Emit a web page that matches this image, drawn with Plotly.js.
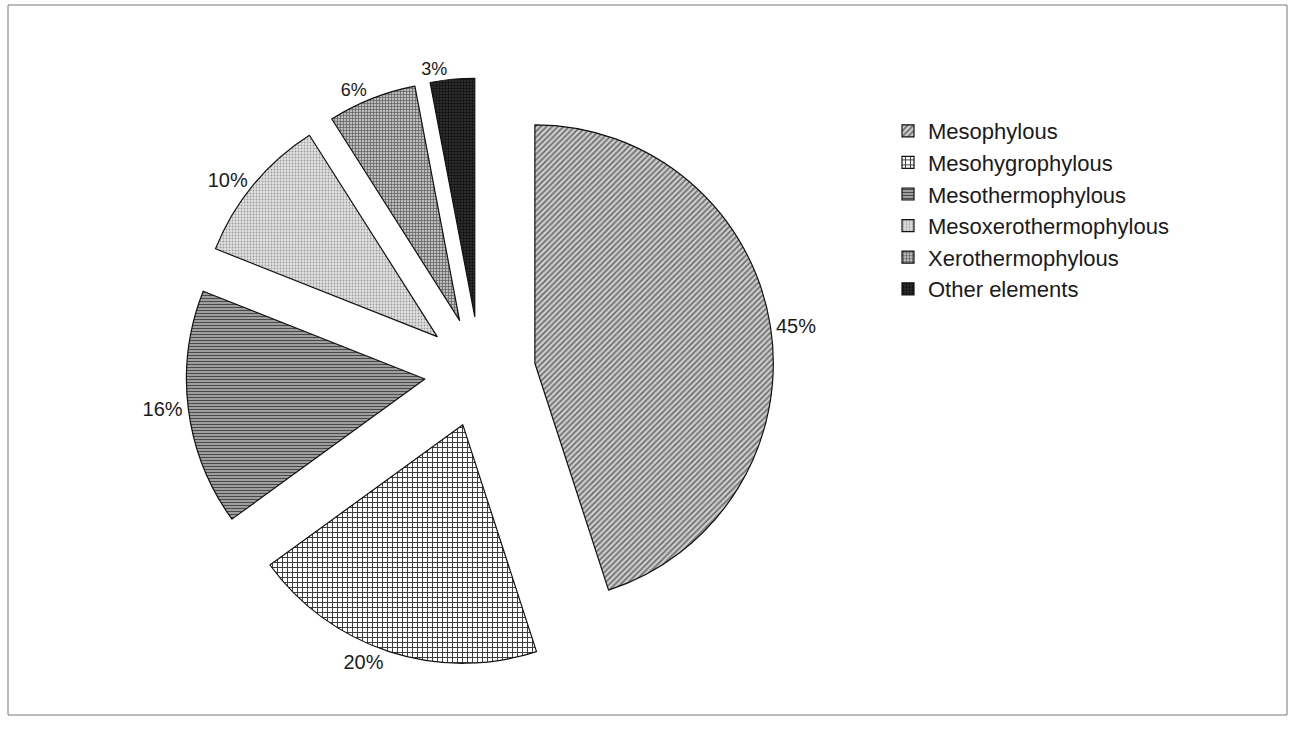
<!DOCTYPE html>
<html>
<head>
<meta charset="utf-8">
<script src="https://cdn.plot.ly/plotly-3.0.1.min.js"></script>
<style>html,body{margin:0;padding:0;background:#fff;}#chart{width:1296px;height:729px;}</style>
</head>
<body>
<div id="chart"></div>
<script>
const categories = ["Mesophylous", "Mesohygrophylous", "Mesothermophylous", "Mesoxerothermophylous", "Xerothermophylous", "Other elements"];
const shares = [45, 20, 16, 10, 6, 3];

const W = 1296, H = 729;
const trace = {
  type: 'pie',
  labels: categories,
  values: shares,
  sort: false,
  direction: 'clockwise',
  rotation: 0,
  pull: 0.233,
  textinfo: 'percent',
  textposition: 'outside',
  texttemplate: '%{value}%',
  outsidetextfont: {family: 'Arial, "Liberation Sans", sans-serif', size: [20, 20, 20, 20, 18, 18], color: '#1a1a1a'},
  marker: {
    colors: ['#c4c4c4', '#ffffff', '#9a9a9a', '#d6d6d6', '#b0b0b0', '#2e2e2e'],
    line: {color: '#111', width: 1.2},
    pattern: {
      shape: ['/', '+', '-', '.', '+', '.'],
      fgcolor: ['#6e6e6e', '#3a3a3a', '#4a4a4a', '#9a9a9a', '#5a5a5a', '#111111'],
      bgcolor: ['#cfcfcf', '#ffffff', '#b0b0b0', '#e2e2e2', '#bdbdbd', '#333333'],
      size: [4, 5, 3, 3, 3, 3],
      solidity: [0.45, 0.35, 0.45, 0.3, 0.4, 0.5]
    }
  },
  domain: {x: [130 / W, 830 / W], y: [1 - 666 / H, 1 - 78 / H]},
  hoverinfo: 'label+percent'
};

const layout = {
  width: W, height: H,
  margin: {l: 0, r: 0, t: 0, b: 0},
  paper_bgcolor: '#ffffff',
  font: {family: 'Arial, "Liberation Sans", sans-serif', size: 22, color: '#1a1a1a'},
  showlegend: true,
  legend: {
    x: 888 / W, y: 1 - 110 / H, xanchor: 'left', yanchor: 'top',
    font: {size: 22, color: '#1a1a1a'},
    bgcolor: 'rgba(0,0,0,0)',
    itemwidth: 30
  },
  shapes: [{
    type: 'rect', xref: 'paper', yref: 'paper',
    x0: 8 / W, x1: 1287 / W, y0: 1 - 715 / H, y1: 1 - 5 / H,
    line: {color: '#777', width: 1}
  }]
};

Plotly.newPlot('chart', [trace], layout, {staticPlot: true});
</script>
</body>
</html>
